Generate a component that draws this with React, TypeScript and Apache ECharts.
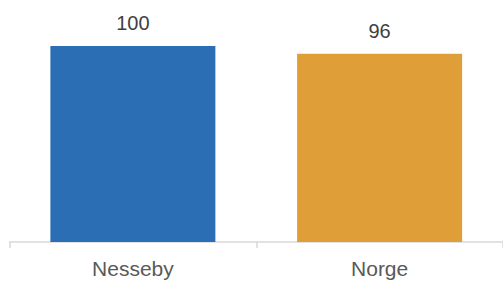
import React, { useEffect, useRef } from "react";
import * as echarts from "echarts";

const categories = ["Nesseby", "Norge"];
const values = [100, 96];
const colors = ["#2C6EB4", "#DF9E38"];

export default function App() {
  const ref = useRef<HTMLDivElement>(null);
  useEffect(() => {
    if (!ref.current) return;
    const chart = echarts.init(ref.current, null, { renderer: "svg" });
    chart.setOption({
      animation: false,
      grid: { left: 9.5, top: 46, bottom: 40, width: 494.5, containLabel: false },
      xAxis: {
        type: "category",
        data: categories,
        boundaryGap: true,
        axisLine: { show: true, lineStyle: { color: "#D9D9D9", width: 1.5 } },
        axisTick: { show: true, length: 6, lineStyle: { color: "#D9D9D9", width: 1.5 } },
        axisLabel: {
          color: "#595959",
          fontSize: 21,
          fontFamily: "Liberation Sans",
          margin: 16,
        },
      },
      yAxis: { type: "value", min: 0, max: 100, show: false, splitLine: { show: false } },
      series: [
        {
          type: "bar",
          barWidth: 165,
          data: values.map((v, i) => ({ value: v, itemStyle: { color: colors[i] } })),
          label: {
            show: true,
            position: "top",
            distance: 13,
            color: "#404040",
            fontSize: 20,
            fontFamily: "Liberation Sans",
          },
        },
      ],
    });
    return () => chart.dispose();
  }, []);
  return (
    <div
      ref={ref}
      style={{ position: "fixed", left: 0, top: 0, width: 503, height: 282, background: "#fff" }}
    />
  );
}
